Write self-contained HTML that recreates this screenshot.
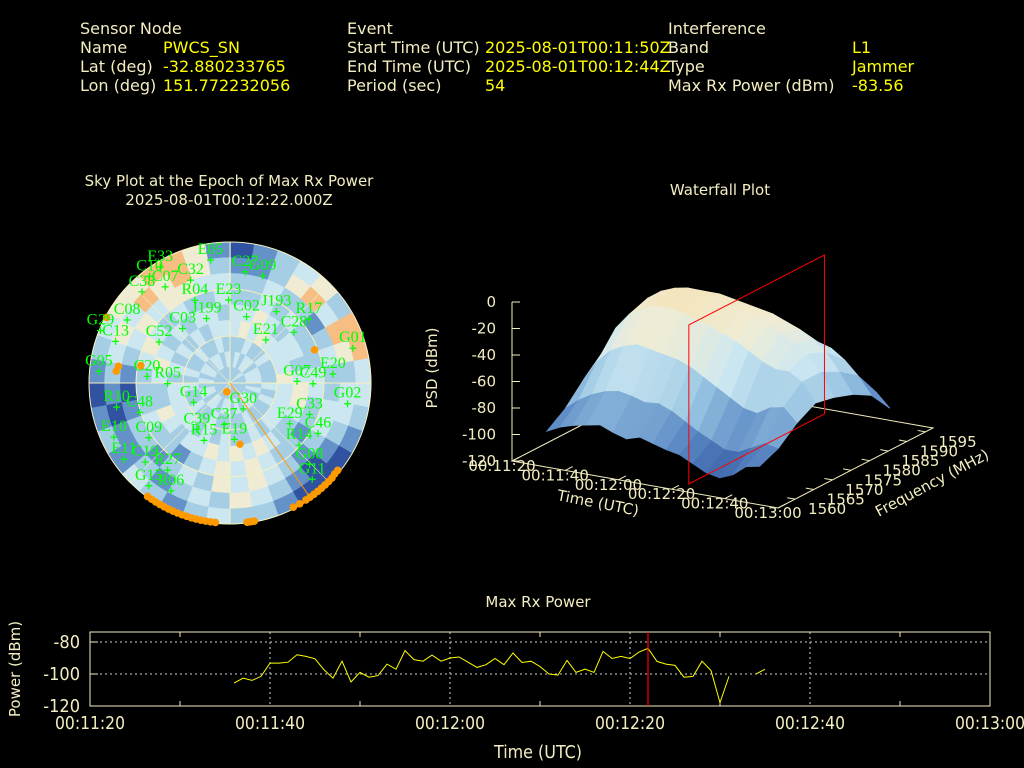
<!DOCTYPE html>
<html><head><meta charset="utf-8"><title>Interference Event Report</title>
<style>
html,body{margin:0;padding:0;background:#000;}
svg{display:block;}
.lbl{fill:#f3edc0;font-family:"DejaVu Sans","Liberation Sans",sans-serif;font-size:16px;}
.val{fill:#ffff00;font-family:"DejaVu Sans","Liberation Sans",sans-serif;font-size:16px;}
.ttl{fill:#f3edc0;font-family:"DejaVu Sans","Liberation Sans",sans-serif;font-size:15px;}
.tick{fill:#f3edc0;font-family:"Liberation Sans Narrow","DejaVu Sans Condensed","Liberation Sans",sans-serif;font-size:18px;}
.sat{fill:#00ff00;font-family:"Liberation Serif",serif;font-size:16px;}
</style></head>
<body>
<svg id="root" width="1024" height="768" viewBox="0 0 1024 768" xmlns="http://www.w3.org/2000/svg">
<rect width="1024" height="768" fill="#000"/>
<g>
  <text class="lbl" x="80" y="34">Sensor Node</text>
  <text class="lbl" x="80" y="53">Name</text>
  <text class="val" x="163" y="53">PWCS_SN</text>
  <text class="lbl" x="80" y="72">Lat (deg)</text>
  <text class="val" x="163" y="72">-32.880233765</text>
  <text class="lbl" x="80" y="91">Lon (deg)</text>
  <text class="val" x="163" y="91">151.772232056</text>

  <text class="lbl" x="347" y="34">Event</text>
  <text class="lbl" x="347" y="53">Start Time (UTC)</text>
  <text class="val" x="485" y="53">2025-08-01T00:11:50Z</text>
  <text class="lbl" x="347" y="72">End Time (UTC)</text>
  <text class="val" x="485" y="72">2025-08-01T00:12:44Z</text>
  <text class="lbl" x="347" y="91">Period (sec)</text>
  <text class="val" x="485" y="91">54</text>

  <text class="lbl" x="668" y="34">Interference</text>
  <text class="lbl" x="668" y="53">Band</text>
  <text class="val" x="852" y="53">L1</text>
  <text class="lbl" x="668" y="72">Type</text>
  <text class="val" x="852" y="72">Jammer</text>
  <text class="lbl" x="668" y="91">Max Rx Power (dBm)</text>
  <text class="val" x="852" y="91">-83.56</text>
</g>

<text class="ttl" x="229" y="186" text-anchor="middle">Sky Plot at the Epoch of Max Rx Power</text>
<text class="ttl" x="229" y="205" text-anchor="middle">2025-08-01T00:12:22.000Z</text>
<g id="sky"></g>

<text class="ttl" x="720" y="195" text-anchor="middle">Waterfall Plot</text>
<g id="wf"></g>

<text class="ttl" x="538" y="607" text-anchor="middle">Max Rx Power</text>
<g id="pw"></g>
</svg>

<script>
// ---------- Max Rx Power data ----------
var pwTimes = [16,17,18,19,20,21,22,23,24,25,26,27,28,29,30,31,32,33,34,35,36,37,38,39,40,41,42,43,44,45,46,47,48,49,50,51,52,53,54,55,56,57,58,59,60,61,62,63,64,65,66,67,68,69,70,71,72,73,74,75];
var pwValues = [-105.7,-102.6,-104,-101.5,-93.2,-93.2,-92.6,-88,-89,-90.5,-97.4,-102.6,-92,-105,-99,-102,-101,-93.8,-97,-85.4,-91,-92,-88.2,-92,-90,-89.4,-92.6,-95.9,-94.2,-90.3,-94.2,-86.9,-92.8,-92,-95.3,-100,-100.7,-91.5,-99,-97,-99,-85.9,-90.3,-89,-90.3,-86.3,-84,-92.1,-93.8,-94.6,-102,-101.5,-92,-97.8,-117.9,-101.5,null,null,-100,-97];
var pwXTicks = [0,20,40,60,80,100];
var pwXTickLabels = ["00:11:20","00:11:40","00:12:00","00:12:20","00:12:40","00:13:00"];
var pwYTicks = [-80,-100,-120];
var pwMarkerTime = [62];

// ---------- Waterfall data ----------
var wfTimes = [8,13,18,23,28,33,38,43,48,53,58,63,68,73,78,83,88];
var wfFreqs = [1559,1564,1569,1574,1579,1584,1589,1594];
var wfPsd1559 = [-100,-95,-92,-90,-88,-92,-95,-92,-95,-98,-100,-105,-110,-112,-108,-100,-98];
var wfPsd1564 = [-90,-82,-76,-72,-70,-72,-75,-74,-78,-84,-90,-95,-100,-100,-95,-90,-92];
var wfPsd1569 = [-75,-60,-50,-45,-42,-44,-46,-48,-52,-58,-64,-70,-76,-78,-72,-70,-80];
var wfPsd1574 = [-62,-42,-30,-24,-20,-20,-22,-25,-28,-32,-36,-42,-48,-52,-52,-58,-72];
var wfPsd1579 = [-60,-40,-25,-18,-14,-12,-14,-17,-20,-22,-25,-30,-34,-40,-46,-58,-75];
var wfPsd1584 = [-70,-52,-38,-30,-24,-22,-22,-24,-26,-28,-30,-34,-38,-44,-52,-65,-80];
var wfPsd1589 = [-90,-75,-62,-55,-48,-45,-44,-45,-46,-48,-50,-52,-55,-58,-65,-75,-88];
var wfPsd1594 = [-110,-102,-92,-85,-78,-75,-74,-75,-76,-78,-80,-82,-84,-86,-90,-95,-105];
var wfZTicks = [0,-20,-40,-60,-80,-100,-120];
var wfTimeTicks = [0,20,40,60,80,100];
var wfTimeTickLabels = ["00:11:20","00:11:40","00:12:00","00:12:20","00:12:40","00:13:00"];
var wfFreqTicks = [1560,1565,1570,1575,1580,1585,1590,1595];
var wfMarkerTime = [62];
var wfMarkerFreqs = [1558.6,1595];

// ---------- Sky plot data ----------
var skyCells = ["012233222","112234232","223343322","342234232","452323232","231233323","552233232","543223232","322334232","332343322","233243232","123233322","012123232","001223232","012232232","123343322","234432232","243342222","324433232","232342232","123233322","212132232","321223232","112233322","212343232","101223232","010223322","121232232","232343322","343432232","434323232","453232322","544323232","554232232","443233322","123323232"];
var satNames = ["E05","E33","C10","C07","C32","C38","R04","E23","C27","G09","J193","C02","J199","C03","C52","C08","G29","C13","R17","C28","E21","G01","E20","G07","C49","G02","G05","R10","C48","E10","E11","C19","G15","R06","R27","C09","C39","R15","C37","E19","G14","G30","C20","R05","E29","C33","C46","R14","G08","G11"];
var satAz = [351,329,323,326,339,316,337,359,7.7,16.9,33,14,340,319,300,301.5,292,290,51,51.6,39.7,74.2,85,88.6,90.5,100,275,258,252,245,234.3,227,218.3,208.7,215.6,236,215.5,204.3,188,175.6,242,152.8,274.6,269.4,124.3,111.6,119.8,132,135.6,139.5];
var satEl = [10.6,3.6,4.7,16,19.7,9.1,32.6,37,18.4,18.5,35.7,46.4,46.2,43.9,37.7,13,0.8,12.3,25.2,37.9,54.2,8.5,24.1,47.2,37,13.8,6,16,29.4,8.3,6.6,16,6.4,11.5,21.6,27.5,53.6,49.8,63.3,53.9,63.7,71.4,36.9,50.2,43.8,35.4,25.3,30.7,17.4,9.2];
var intAz = [186,188,190,192,194,196,198,200,202,204,206,208,210,212,214,216,170,171,172,173,129,131,133,135,137,139,141,143,145,147,150,153,298,278.5,276,281,68.6,200,170.8];
var intEl = [0.5,0.5,0.5,0.5,0.5,0.5,0.5,0.5,0.5,0.5,0.5,0.5,0.5,0.5,0.5,0.5,0.5,0.5,0.5,0.5,1.5,1.5,1,1,1,1,1,1,1,1,1,1,0.8,18,17,32,32,84,50.4];
var intLineAz = [145];

var NS="http://www.w3.org/2000/svg";
function mk(tag,attrs,parent){var e=document.createElementNS(NS,tag);for(var k in attrs)e.setAttribute(k,attrs[k]);if(parent)parent.appendChild(e);return e;}
function lerp(a,b,t){return a+(b-a)*t;}
function cmap(stops,v){
  v=Math.max(0,Math.min(1,v));
  var n=stops.length-1,i=Math.min(n-1,Math.floor(v*n)),t=v*n-i;
  var a=stops[i],b=stops[i+1];
  return "rgb("+Math.round(lerp(a[0],b[0],t))+","+Math.round(lerp(a[1],b[1],t))+","+Math.round(lerp(a[2],b[2],t))+")";
}
var skyStops=[[48,82,160],[100,146,200],[165,206,229],[205,231,240],[240,236,212],[246,190,130]];
var wfStops=[[50,85,160],[90,135,195],[150,195,225],[205,232,242],[240,236,212],[245,226,180]];

// ================= Power chart =================
(function(){
  var g=document.getElementById('pw');
  var L=90,R=990,T=632,B=706,tMin=0,tMax=100,yMin=-120,yMax=-73.75;
  function X(t){return L+(t-tMin)/(tMax-tMin)*(R-L);}
  function Y(v){return B-(v-yMin)/(yMax-yMin)*(B-T);}
  var grid=mk('g',{},g);
  
  
  pwYTicks.forEach(function(v){
    if(v>yMin){var l=mk('line',{x1:L,x2:R,y1:Y(v),y2:Y(v),stroke:'#cfcfcf','stroke-width':1,'stroke-dasharray':'2,3'},grid);
    }
    var tl=mk('line',{x1:L,x2:L+8,y1:Y(v),y2:Y(v),stroke:'#f3edc0'},g);
    
    var t=mk('text',{x:80,y:Y(v)+6,'text-anchor':'end','class':'tick'},g);t.textContent=v;
    
  });
  pwXTicks.forEach(function(v,i){
    if(v>tMin&&v<tMax){var l=mk('line',{x1:X(v),x2:X(v),y1:T,y2:B,stroke:'#cfcfcf','stroke-width':1,'stroke-dasharray':'2,3'},grid);
    }
    var t=mk('text',{x:X(v)-35,y:729,'class':'tick',textLength:70,lengthAdjust:'spacingAndGlyphs'},g);t.textContent=pwXTickLabels[i];
    
    if(i<pwXTicks.length-1){var m=mk('line',{x1:X(v+10),x2:X(v+10),y1:B,y2:B-5,stroke:'#f3edc0'},g);
      
      var m2=mk('line',{x1:X(v+10),x2:X(v+10),y1:T,y2:T+5,stroke:'#f3edc0'},g);
      }
  });
  var frame=mk('rect',{x:L,y:T,width:R-L,height:B-T,fill:'none',stroke:'#f3edc0','stroke-width':1},g);
  
  var segs=[],cur=[];
  pwTimes.forEach(function(t,i){var v=pwValues[i];if(v===null){if(cur.length)segs.push(cur);cur=[];}else cur.push(X(t).toFixed(1)+","+Y(v).toFixed(1));});
  if(cur.length)segs.push(cur);
  segs.forEach(function(s){var p=mk('polyline',{points:s.join(' '),fill:'none',stroke:'#ffff00','stroke-width':1},g);
    });
  var ml=mk('line',{x1:X(pwMarkerTime[0]),x2:X(pwMarkerTime[0]),y1:T,y2:B,stroke:'#ff0000','stroke-width':1.2},g);
  
  var xt=mk('text',{x:494,y:758,'class':'tick',textLength:88,lengthAdjust:'spacingAndGlyphs'},g);xt.textContent='Time (UTC)';
  
  var yt=mk('text',{x:20,y:669,'text-anchor':'middle','class':'ttl',transform:'rotate(-90 20 669)'},g);yt.textContent='Power (dBm)';
  
})();

// ================= Sky plot =================
(function(){
  var g=document.getElementById('sky');
  var cx=230,cy=383,Rr=141;
  function rad(el){return Rr*(1-el/90);}
  function P(az,el){var a=az*Math.PI/180,r=rad(el);return [cx+r*Math.sin(a),cy-r*Math.cos(a)];}
  var cells=mk('g',{},g);
  
  
  skyCells.forEach(function(str,ai){
    for(var b=0;b<str.length;b++){
      var v=+str[b];var a0=ai*10,a1=a0+10.3,e0=b*10,e1=b*10+10;
      var p1=P(a0,e0),p2=P(a1,e0),p3=P(a1,e1),p4=P(a0,e1),r0=rad(e0),r1=rad(e1);
      var d="M"+p1[0]+","+p1[1]+" A"+r0+","+r0+" 0 0 1 "+p2[0]+","+p2[1]+" L"+p3[0]+","+p3[1]+" A"+r1+","+r1+" 0 0 0 "+p4[0]+","+p4[1]+"Z";
      var c=mk('path',{d:d,fill:cmap(skyStops,v/5),stroke:cmap(skyStops,v/5),'stroke-width':0.6},cells);
      
    }
  });
  var grid=mk('g',{stroke:'#f6f0c0','stroke-width':1,fill:'none'},g);
  
  
  [0,30,60].forEach(function(el){var c=mk('circle',{cx:cx,cy:cy,r:rad(el)},grid);});
  [0,45,90,135].forEach(function(az){var p=P(az,0),q=P(az+180,0);var l=mk('line',{x1:p[0],y1:p[1],x2:q[0],y2:q[1],'stroke-width':az%90?0.6:1},grid);});
  var lp=P(intLineAz[0],0);
  var il=mk('line',{x1:cx,y1:cy,x2:lp[0],y2:lp[1],stroke:'#ff9900','stroke-width':1},g);
  
  intAz.forEach(function(az,i){var p=P(az,intEl[i]);var c=mk('circle',{cx:p[0],cy:p[1],r:3.8,fill:'#ff9900'},g);
    });
  satNames.forEach(function(n,i){
    var p=P(satAz[i],satEl[i]);
    var m=mk('path',{d:"M"+(p[0]-3.5)+","+p[1]+"h7M"+p[0]+","+(p[1]-3.5)+"v7",stroke:'#00ff00','stroke-width':1.2},g);
    
    var t=mk('text',{x:p[0],y:p[1]-6,'text-anchor':'middle','class':'sat'},g);t.textContent=n;
    
  });
})();

// ================= Waterfall =================
(function(){
  var g=document.getElementById('wf');
  var ox=512,oy=461,Tx=266,Ty=47,Fx=155,Fy=-80,H=159,tMin=0,tMax=100,fMin=1555.4,fMax=1597,zMin=-120,zMax=0;
  function P(t,f,z){var u=(t-tMin)/(tMax-tMin),v=(f-fMin)/(fMax-fMin),h=(z-zMin)/(zMax-zMin)*H;return [ox+Tx*u+Fx*v,oy+Ty*u+Fy*v-h];}
  var base=mk('g',{stroke:'#f3edc0','stroke-width':1,fill:'none'},g);
  
  
  var c1=P(tMin,fMin,zMin),c2=P(tMax,fMin,zMin),c3=P(tMax,fMax,zMin),c4=P(tMin,fMax,zMin);
  var bp=mk('polygon',{points:[c1,c2,c3,c4].map(function(p){return p.join(',');}).join(' ')},base);
  
  var rows=[wfPsd1559,wfPsd1564,wfPsd1569,wfPsd1574,wfPsd1579,wfPsd1584,wfPsd1589,wfPsd1594];
  var surf=mk('g',{},g);
  
  
  for(var j=rows.length-2;j>=0;j--){
    for(var i=0;i<wfTimes.length-1;i++){
      var za=rows[j][i],zb=rows[j][i+1],zc=rows[j+1][i+1],zd=rows[j+1][i];
      var a=P(wfTimes[i],wfFreqs[j],za),b=P(wfTimes[i+1],wfFreqs[j],zb),c=P(wfTimes[i+1],wfFreqs[j+1],zc),d=P(wfTimes[i],wfFreqs[j+1],zd);
      var zm=(za+zb+zc+zd)/4;var col=cmap(wfStops,(zm+115)/105);
      var q=mk('polygon',{points:[a,b,c,d].map(function(p){return p[0].toFixed(1)+','+p[1].toFixed(1);}).join(' '),fill:col,stroke:col,'stroke-width':0.8},surf);
      
    }
  }
  var r1=P(wfMarkerTime[0],wfMarkerFreqs[0],zMin),r2=P(wfMarkerTime[0],wfMarkerFreqs[1],zMin),r3=P(wfMarkerTime[0],wfMarkerFreqs[1],zMax),r4=P(wfMarkerTime[0],wfMarkerFreqs[0],zMax);
  var rp=mk('polygon',{points:[r1,r2,r3,r4].map(function(p){return p.join(',');}).join(' '),fill:'none',stroke:'#ff0000','stroke-width':1},g);
  
  var zt=P(tMin,fMin,zMax);
  var za=mk('line',{x1:ox,y1:oy,x2:ox,y2:zt[1],stroke:'#f3edc0'},g);
  
  wfZTicks.forEach(function(z){var p=P(tMin,fMin,z);
    var l=mk('line',{x1:ox,x2:ox+8,y1:p[1],y2:p[1],stroke:'#f3edc0'},g);
    var t=mk('text',{x:496,y:p[1]+5,'text-anchor':'end','class':'ttl'},g);t.textContent=z;});
  wfTimeTicks.forEach(function(tv,i){var p=P(tv,fMin,zMin),q=P(tv,fMin+2,zMin);
    var l=mk('line',{x1:p[0],y1:p[1],x2:q[0],y2:q[1],stroke:'#f3edc0'},g);
    var t=mk('text',{x:p[0]-10,y:p[1]+10,'text-anchor':'middle','class':'ttl'},g);t.textContent=wfTimeTickLabels[i];});
  wfFreqTicks.forEach(function(fv){var p=P(tMax,fv,zMin),q=P(tMax-3,fv,zMin);
    var l=mk('line',{x1:p[0],y1:p[1],x2:q[0],y2:q[1],stroke:'#f3edc0'},g);
    var t=mk('text',{x:p[0]+32,y:p[1]+15,'text-anchor':'middle','class':'ttl'},g);t.textContent=fv;});
  var xt=mk('text',{x:598,y:508,'text-anchor':'middle','class':'ttl',transform:'rotate(11 598 503)'},g);xt.textContent='Time (UTC)';
  
  var ft=mk('text',{x:932,y:488,'text-anchor':'middle','class':'ttl',transform:'rotate(-28 932 483)'},g);ft.textContent='Frequency (MHz)';
  
  var pt=mk('text',{x:437,y:368,'text-anchor':'middle','class':'ttl',transform:'rotate(-90 437 368)'},g);pt.textContent='PSD (dBm)';
  
})();
</script>
</body></html>
